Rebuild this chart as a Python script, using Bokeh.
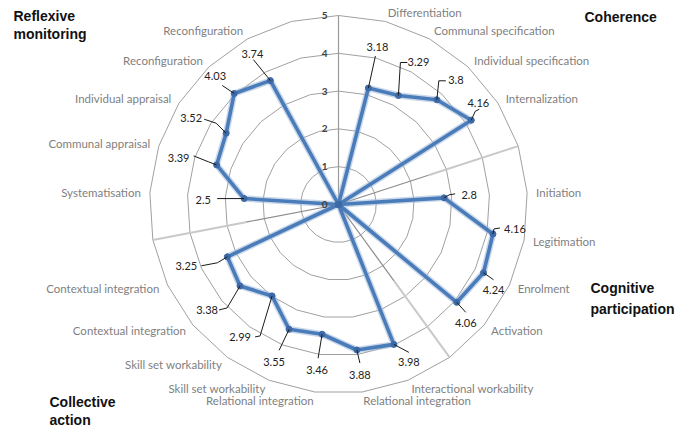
import numpy as np
from bokeh.plotting import figure
from bokeh.models import Range1d, ColumnDataSource
from bokeh.embed import file_html
from bokeh.resources import INLINE
from bokeh.core.properties import value

# ---------------- data ----------------
categories = ["", "Differentiation", "Communal specification", "Individual specification",
              "Internalization", "",
              "Initiation", "Legitimation", "Enrolment", "Activation", "",
              "Interactional workability", "Relational integration", "Relational integration",
              "Skill set workability", "Skill set workability", "Contextual integration",
              "Contextual integration", "",
              "Systematisation", "Communal appraisal", "Individual appraisal",
              "Reconfiguration", "Reconfiguration", ""]
scores = [0, 3.18, 3.29, 3.80, 4.16, 0,
          2.80, 4.16, 4.24, 4.06, 0,
          3.98, 3.88, 3.46, 3.55, 2.99, 3.38, 3.25, 0,
          2.50, 3.39, 3.52, 4.03, 3.74, 0]
separator_idx = [0, 5, 10, 18]
ticks = [0, 1, 2, 3, 4, 5]
group_lines = ["Coherence", "Cognitive", "participation", "Collective", "action",
               "Reflexive", "monitoring"]

# ---------------- layout / style ----------------
W, H = 687, 427
U = 37.8                      # px per unit of the radial scale
CX, CY = 338, 204             # centre in figure px
RMAX = 5
# data-label text offsets (px, screen y down) and leader elbow/end offsets
lab_off = {1: (9, -41), 2: (20, -34), 3: (19, -20), 4: (7, -17), 6: (25, -3), 7: (22, -5),
           8: (10, 17), 9: (9, 21), 11: (15, 18), 12: (3, 25), 13: (-5, 36), 14: (-15, 33),
           15: (-32, 41), 16: (-33, 24), 17: (-41, 9), 19: (-41, 1), 20: (-38, -7),
           21: (-35, -15), 22: (-19, -17), 23: (-18, -27)}
lead_off = {1: ((7, -32), (7, -32)), 2: ((2, -33), (9, -33)), 3: ((2, -19), (9, -19)),
            4: ((4, -9), (8, -11)), 6: ((5, -3), (11, -4)), 7: ((1, -5), (7, -6)),
            8: ((10, 7), (10, 7)), 9: ((9, 10), (9, 10)), 11: ((15, 8), (15, 8)),
            12: ((3, 13), (3, 13)), 13: ((-4, 24), (-4, 24)), 14: ((-10, 21), (-10, 21)),
            15: ((-12, 40), (-17, 41)), 16: ((-13, 22), (-21, 24)), 17: ((-10, 6), (-26, 9)),
            19: ((-27, 0), (-27, 0)), 20: ((-8, -3), (-23, -9)), 21: ((-10, -10), (-22, -14)),
            22: ((-12, -8), (-12, -8)), 23: ((-17, -21), (-17, -21))}
# group title anchors in page px (left, middle)
group_pos = [(584, 16), (590, 287), (590, 308), (49, 401), (49, 419), (13, 15), (13, 33)]

def px(X):
    return (X - CX) / U

def py(Y):
    return (CY - Y) / U

p = figure(width=W, height=H, output_backend="svg", toolbar_location=None,
           x_axis_location=None, y_axis_location=None, min_border=0,
           x_range=Range1d(-CX / U, (W - CX) / U), y_range=Range1d(-(H - CY) / U, CY / U))
p.grid.visible = False
p.outline_line_color = None
p.background_fill_color = "white"
p.border_fill_color = "white"

n = len(categories)
ang = np.arange(n) * 2 * np.pi / n          # bearing clockwise from north
sx, sy = np.sin(ang), np.cos(ang)

# rings (polygons)
for t in ticks[1:]:
    xs = list(t * sx) + [t * sx[0]]
    ys = list(t * sy) + [t * sy[0]]
    p.line(xs, ys, line_color="#a0a0a0", line_width=1)

# separator spokes
for k in separator_idx:
    if k == 0:
        p.line([0, RMAX * sx[k]], [0, RMAX * sy[k]], line_color="#9a9a9a", line_width=1.2)
    else:
        p.line([0, 2.5 * sx[k]], [0, 2.5 * sy[k]], line_color="#8c8c8c", line_width=1.2)
        p.line([2.5 * sx[k], RMAX * sx[k]], [2.5 * sy[k], RMAX * sy[k]],
               line_color="#c9c9c9", line_width=2)

# category labels
R_lab = 198 / U
cat_src = ColumnDataSource(dict(
    x=[R_lab * sx[k] for k in range(n) if categories[k]],
    y=[R_lab * sy[k] for k in range(n) if categories[k]],
    t=[categories[k] for k in range(n) if categories[k]],
    a=["left" if sx[k] > 0 else "right" for k in range(n) if categories[k]]))
p.text(x="x", y="y", text="t", text_align="a", text_baseline="middle", source=cat_src,
       text_font=value("Lato"), text_font_size="11.5px", text_color="#7f7f7f")

# series
v = np.array(scores)
lx = list(v * sx) + [v[0] * sx[0]]
ly = list(v * sy) + [v[0] * sy[0]]
p.line(lx, ly, line_color="#9fb8d9", line_width=6.5, line_alpha=0.55, line_join="round")
p.line(lx, ly, line_color="#4a7cba", line_width=3.6, line_join="round")
p.scatter(list(v * sx), list(v * sy), marker="circle", size=6, fill_color="#3d6aa6",
          line_color="#3d6aa6")

# tick labels on the vertical axis (drawn above the series)
p.text(x=[px(327)] * len(ticks), y=[t for t in ticks], text=[str(t) for t in ticks],
       text_align="right", text_baseline="middle", text_font=value("Lato"),
       text_font_size="10px", text_color="#404040", text_font_style="bold")

# leaders and data labels
lead_xs, lead_ys, tx, ty, tt = [], [], [], [], []
for k in range(n):
    if scores[k] == 0:
        continue
    x0, y0 = scores[k] * sx[k], scores[k] * sy[k]
    (ex, ey), (fx, fy) = lead_off[k]
    lead_xs.append([x0, x0 + ex / U, x0 + fx / U])
    lead_ys.append([y0, y0 - ey / U, y0 - fy / U])
    dx, dy = lab_off[k]
    tx.append(x0 + dx / U)
    ty.append(y0 - dy / U)
    tt.append(f"{scores[k]:g}")
p.multi_line(lead_xs, lead_ys, line_color="#1a1a1a", line_width=1)
p.text(x=tx, y=ty, text=tt, text_align="center", text_baseline="middle",
       text_font=value("Lato"), text_font_size="11px", text_color="#222222")

# group titles
p.text(x=[px(a) for a, b in group_pos], y=[py(b) for a, b in group_pos], text=group_lines,
       text_align="left", text_baseline="middle", text_font=value("Liberation Sans"),
       text_font_size="14px", text_font_style="bold", text_color="#111111")

open("out.html", "w").write(file_html(p, INLINE))
